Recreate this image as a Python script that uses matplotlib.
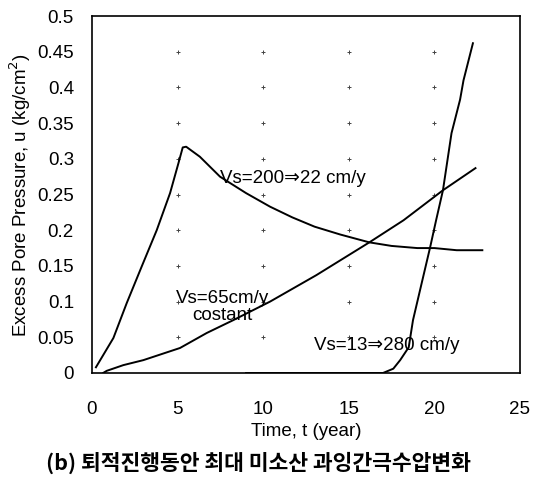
import numpy as np
import matplotlib.pyplot as plt

plt.rcParams['font.family'] = ['Liberation Sans', 'DejaVu Sans']

# Vs = 200 => 22 cm/y
t_a = [0.23, 1.25, 2.03, 2.9, 3.78, 4.56, 5.05, 5.3, 5.5, 6.3, 7.48, 9.0, 10.4, 11.7, 13.0, 14.5, 16.2, 17.5, 19.0, 20.0, 21.3, 22.8]
u_a = [0.008, 0.049, 0.098, 0.149, 0.2, 0.252, 0.294, 0.316, 0.317, 0.303, 0.275, 0.252, 0.233, 0.218, 0.205, 0.194, 0.183, 0.178, 0.175, 0.175, 0.172, 0.172]

# Vs = 65 cm/y constant
t_b = [0.65, 0.86, 1.83, 3.0, 5.14, 6.7, 8.25, 10.4, 13.1, 16.2, 18.2, 20.5, 22.4]
u_b = [0.0, 0.003, 0.011, 0.018, 0.035, 0.056, 0.074, 0.1, 0.137, 0.183, 0.214, 0.256, 0.287]

# Vs = 13 => 280 cm/y
t_c = [9.0, 17.0, 17.6, 18.0, 18.5, 18.75, 19.2, 19.75, 20.1, 20.5, 21.0, 21.5, 21.7, 22.25]
u_c = [0.0, 0.0, 0.006, 0.018, 0.036, 0.074, 0.12, 0.176, 0.214, 0.256, 0.336, 0.383, 0.41, 0.462]

x_ticks = [0, 5, 10, 15, 20, 25]
y_ticks = [0, 0.05, 0.1, 0.15, 0.2, 0.25, 0.3, 0.35, 0.4, 0.45, 0.5]
y_labels = ['0', '0.05', '0.1', '0.15', '0.2', '0.25', '0.3', '0.35', '0.4', '0.45', '0.5']

fig = plt.figure(figsize=(5.33, 4.88), dpi=100)
ax = fig.add_axes([0.1726, 0.2357, 0.803, 0.7313])

# grid shown only as small crosses at the intersections
gx, gy = np.meshgrid(x_ticks[1:-1], y_ticks[1:-1])
ax.scatter(gx.ravel(), gy.ravel(), marker='+', s=9, color='#444444', linewidths=0.7)

ax.plot(t_a, u_a, color='black', lw=1.4)
ax.plot(t_b, u_b, color='black', lw=1.4)
ax.plot(t_c, u_c, color='black', lw=1.4)

ax.set_xlim(0, 25)
ax.set_ylim(0, 0.5)
ax.set_xticks(x_ticks)
ax.set_yticks(y_ticks)
ax.set_yticklabels(y_labels)
ax.tick_params(labelsize=13.5, length=0)
ax.tick_params(axis='y', pad=13)
ax.tick_params(axis='x', pad=20)
for s in ax.spines.values():
    s.set_linewidth(1.2)

ax.set_xlabel('Time, t (year)', fontsize=13.5, labelpad=4)
ax.set_ylabel('Excess Pore Pressure, u (kg/cm$^2$)', fontsize=13.5, labelpad=3)

ax.text(7.5, 0.273, 'Vs=200\u21d222 cm/y', fontsize=13.5, va='center', ha='left')
ax.text(7.6, 0.105, 'Vs=65cm/y', fontsize=13.5, va='center', ha='center')
ax.text(7.6, 0.081, 'costant', fontsize=13.5, va='center', ha='center')
ax.text(17.2, 0.039, 'Vs=13\u21d2280 cm/y', fontsize=13.5, va='center', ha='center')

fig.text(0.484, 1 - 463 / 488, '(b) 퇴적진행동안 최대 미소산 과잉간극수압변화',
         fontsize=15.5, fontweight='bold', ha='center', va='center',
         family=['Noto Sans CJK KR', 'DejaVu Sans'])

fig.savefig('out.png', dpi=100)
